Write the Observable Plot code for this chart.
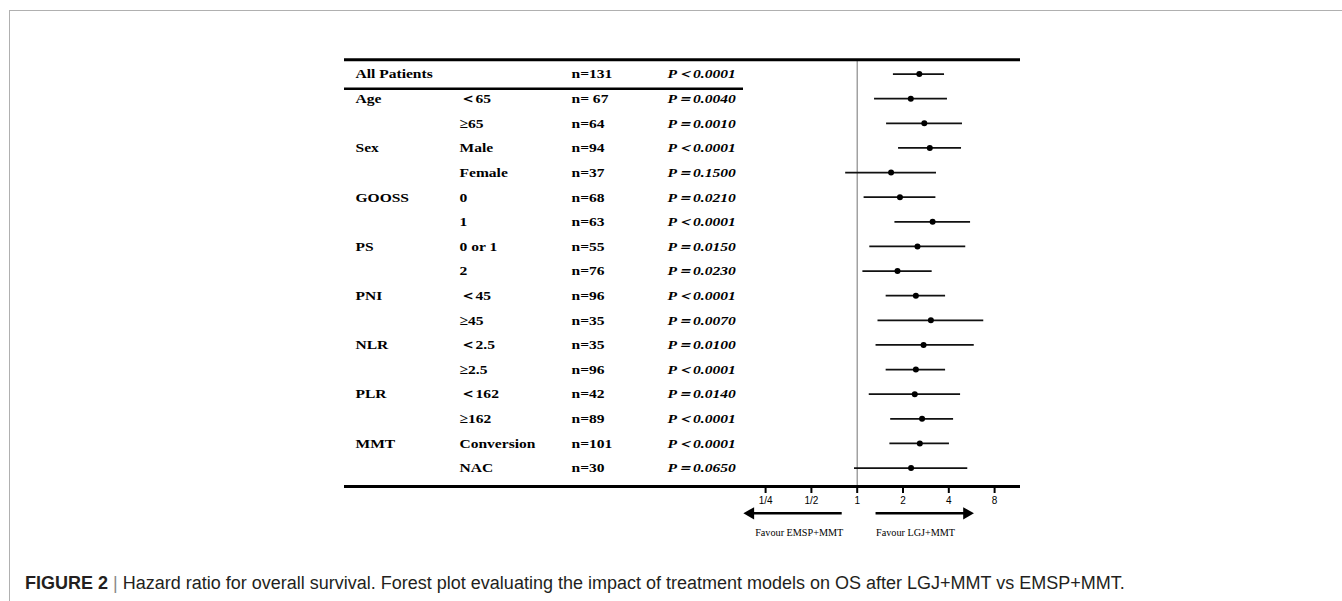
<!DOCTYPE html>
<html>
<head>
<meta charset="utf-8">
<script src="https://cdn.jsdelivr.net/npm/d3@7"></script>
<script src="https://cdn.jsdelivr.net/npm/@observablehq/plot@0.6"></script>
<style>
  html, body { margin: 0; padding: 0; background: #fff; overflow: hidden; }
  #wrap { position: relative; width: 1342px; height: 601px; }
  #border { position: absolute; left: 9px; top: 10px; right: -4px; bottom: -4px;
            border-left: 1px solid #b0b0b0; border-top: 1px solid #b0b0b0; }
  #wrap svg { position: absolute; left: 0; top: 0; }
  #caption { position: absolute; left: 25px; top: 574px; font-family: "Liberation Sans", Arial, sans-serif;
             font-size: 18px; line-height: 18px; color: #231f20; white-space: nowrap; }
  #caption b { font-weight: bold; }
  #caption .sep { color: #8a8a8a; font-weight: 300; }
</style>
</head>
<body>
<div id="wrap">
  <div id="border"></div>
  <div id="caption"><b>FIGURE 2</b> <span class="sep">|</span> Hazard ratio for overall survival. Forest plot evaluating the impact of treatment models on OS after LGJ+MMT vs EMSP+MMT.</div>
</div>
<script>
// ---- data ----
const groups    = ["All Patients","Age","","Sex","","GOOSS","","PS","","PNI","","NLR","","PLR","","MMT",""];
const subgroups = ["","＜65","≥65","Male","Female","0","1","0 or 1","2","＜45","≥45","＜2.5","≥2.5","＜162","≥162","Conversion","NAC"];
const nLabels   = ["n=131","n= 67","n=64","n=94","n=37","n=68","n=63","n=55","n=76","n=96","n=35","n=35","n=96","n=42","n=89","n=101","n=30"];
const pLabels   = ["P＜0.0001","P＝0.0040","P＝0.0010","P＜0.0001","P＝0.1500","P＝0.0210","P＜0.0001","P＝0.0150","P＝0.0230","P＜0.0001","P＝0.0070","P＝0.0100","P＜0.0001","P＝0.0140","P＜0.0001","P＜0.0001","P＝0.0650"];
const hrValues  = [2.56,2.25,2.76,3.00,1.67,1.91,3.13,2.49,1.84,2.43,3.05,2.73,2.43,2.39,2.67,2.58,2.26];
const ciLow     = [1.73,1.30,1.56,1.87,0.84,1.11,1.77,1.21,1.09,1.55,1.37,1.33,1.55,1.20,1.66,1.64,0.96];
const ciHigh    = [3.75,3.92,4.92,4.85,3.32,3.29,5.56,5.17,3.11,3.81,6.79,5.88,3.81,4.78,4.30,4.04,5.33];
const tickValues = [0.25, 0.5, 1, 2, 4, 8];
const tickLabels = ["1/4","1/2","1","2","4","8"];
const favourLeft = "Favour EMSP+MMT";
const favourRight = "Favour LGJ+MMT";

const rows = groups.map((g, i) => ({
  i, group: g, sub: subgroups[i], n: nLabels[i], p: pLabels[i],
  hr: hrValues[i], lo: ciLow[i], hi: ciHigh[i]
}));

// ---- layout ----
const W = 1342, H = 556;
const yDomain = [-0.58, 16.75];      // table frame (top rule, bottom rule)
const yRange = [59.3, 486];
const serif = "'Liberation Serif', 'Times New Roman', serif";
const sans = "'Liberation Sans', Arial, sans-serif";

// Table plot
const table = Plot.plot({
  width: W, height: H,
  marginLeft: 344, marginRight: W - 743, marginTop: yRange[0], marginBottom: H - yRange[1],
  style: {background: "transparent"},
  x: {type: "point", domain: ["group","sub","n","p"], range: [354, 668], padding: 0, axis: null},
  y: {domain: yDomain, range: yRange, axis: null},
  marks: [
    Plot.ruleY([0.6], {stroke: "black", strokeWidth: 2.5}),
    Plot.text(rows, {x: () => "group", y: "i", text: "group", textAnchor: "start", fontSize: 13.5, fontWeight: "bold", fontFamily: serif, fill: "black"}),
    Plot.text(rows, {x: () => "sub", y: "i", text: "sub", textAnchor: "start", fontSize: 13.5, fontWeight: "bold", fontFamily: serif, fill: "black"}),
    Plot.text(rows, {x: () => "n", y: "i", text: "n", textAnchor: "start", dx: 8, fontSize: 13.5, fontWeight: "bold", fontFamily: serif, fill: "black"}),
    Plot.text(rows, {x: () => "p", y: "i", text: "p", textAnchor: "start", fontSize: 13.5, fontWeight: "bold", fontStyle: "italic", fontFamily: serif, fill: "black"})
  ]
});

// Forest plot
const arrowY = 17.84, labelY = 18.61;
const forest = Plot.plot({
  width: W, height: H,
  marginLeft: 344, marginRight: W - 1020, marginTop: yRange[0], marginBottom: H - yRange[1],
  style: {background: "transparent"},
  x: {type: "log", base: 2, domain: [0.25, 8], range: [765.1, 994.1], axis: null},
  y: {domain: yDomain, range: yRange, axis: null},
  marks: [
    Plot.ruleX([1], {stroke: "#8a8a8a", strokeWidth: 1.2}),
    Plot.ruleY(yDomain, {stroke: "black", strokeWidth: 3}),
    Plot.ruleY(rows, {y: "i", x1: "lo", x2: "hi", stroke: "#111", strokeWidth: 1.7}),
    Plot.dot(rows, {x: "hr", y: "i", r: 3, fill: "black", stroke: "none"}),
    Plot.axisX({anchor: "bottom", ticks: tickValues, tickFormat: (d) => tickLabels[tickValues.indexOf(d)],
                tickSize: 7, tickPadding: 3, strokeWidth: 2, fontSize: 10, fontFamily: sans, label: null}),
    Plot.ruleY([{y: arrowY, x1: 0.205, x2: 0.797}, {y: arrowY, x1: 1.33, x2: 5.08}],
               {y: "y", x1: "x1", x2: "x2", stroke: "black", strokeWidth: 2.5}),
    Plot.dot([{x: 0.199, y: arrowY, rot: -90}, {x: 5.25, y: arrowY, rot: 90}],
             {x: "x", y: "y", symbol: "triangle", rotate: "rot", r: 4.6, fill: "black", stroke: "none"}),
    Plot.text([favourLeft], {x: 0.81, y: labelY, text: (d) => d, textAnchor: "end", fontSize: 10.2, fontFamily: serif, fill: "black"}),
    Plot.text([favourRight], {x: 1.33, y: labelY, text: (d) => d, textAnchor: "start", fontSize: 10.2, fontFamily: serif, fill: "black"})
  ]
});

const wrap = document.getElementById("wrap");
wrap.appendChild(table);
wrap.appendChild(forest);

// horizontal stretch of the table type (as in the original figure)
table.querySelectorAll("g[aria-label='text'] text").forEach((t) => {
  const w = t.getComputedTextLength();
  if (w > 0) {
    t.setAttribute("textLength", (w * 1.15).toFixed(1));
    t.setAttribute("lengthAdjust", "spacingAndGlyphs");
  }
});
</script>
</body>
</html>
